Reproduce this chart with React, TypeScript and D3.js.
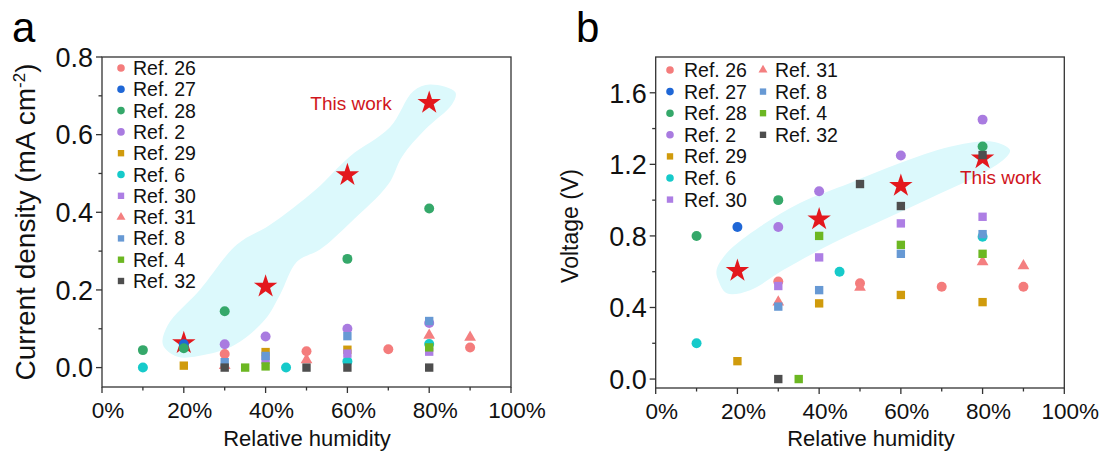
import React from 'react';
import * as d3 from 'd3';

// ---------- data ----------
const seriesNames = ['Ref. 26', 'Ref. 27', 'Ref. 28', 'Ref. 2', 'Ref. 29', 'Ref. 6', 'Ref. 30', 'Ref. 31', 'Ref. 8', 'Ref. 4', 'Ref. 32'];
const xTickLabels = ['0%', '20%', '40%', '60%', '80%', '100%'];
const xMajor = [0, 20, 40, 60, 80, 100];
const xMinor = [10, 30, 50, 70, 90];

const yMajorA = [0, 0.2, 0.4, 0.6, 0.8];
const yMinorA = [0.1, 0.3, 0.5, 0.7];
const yMajorB = [0, 0.4, 0.8, 1.2, 1.6];
const yMinorB = [0.2, 0.6, 1.0, 1.4];

// Panel a: current density (mA cm^-2) vs relative humidity (%)
const ref26A = [[30, 0.035], [50, 0.042], [70, 0.047], [90, 0.052]];
const ref27A = [[20, 0.06]];
const ref28A = [[10, 0.045], [20, 0.05], [30, 0.145], [60, 0.28], [80, 0.41]];
const ref2A = [[30, 0.06], [40, 0.08], [60, 0.1], [80, 0.115]];
const ref29A = [[20, 0.005], [40, 0.04], [60, 0.046]];
const ref6A = [[10, 0], [45, 0], [60, 0.016], [80, 0.061]];
const ref30A = [[40, 0.02], [60, 0.036], [80, 0.041]];
const ref31A = [[30, 0.005], [50, 0.02], [80, 0.083], [90, 0.078]];
const ref8A = [[30, 0.014], [40, 0.03], [60, 0.081], [80, 0.12]];
const ref4A = [[35, 0], [40, 0.003], [80, 0.052]];
const ref32A = [[30, 0], [50, 0], [60, 0], [80, 0]];
const thisWorkA = [[20, 0.063], [40, 0.209], [60, 0.496], [80, 0.682]];
const blobA = [[80.2, 0.729], [86.4, 0.709], [85.6, 0.678], [79, 0.613], [73.4, 0.544], [70, 0.472], [60.7, 0.373], [53.3, 0.304], [47.7, 0.273], [43.5, 0.187], [39.8, 0.123], [32.5, 0.059], [25.1, 0.033], [18.5, 0.028], [14.9, 0.059], [16.1, 0.11], [23.9, 0.2], [33, 0.317], [41.1, 0.368], [52.3, 0.459], [60.6, 0.544], [70.4, 0.619], [76.1, 0.712]];

// Panel b: voltage (V) vs relative humidity (%)
const ref26B = [[30, 0.545], [50, 0.535], [70, 0.516], [90, 0.516]];
const ref27B = [[20, 0.85]];
const ref28B = [[10, 0.8], [30, 1.0], [80, 1.3]];
const ref2B = [[30, 0.85], [40, 1.05], [60, 1.25], [80, 1.45]];
const ref29B = [[20, 0.1], [40, 0.423], [60, 0.47], [80, 0.43]];
const ref6B = [[10, 0.2], [45, 0.6], [80, 0.795]];
const ref30B = [[30, 0.52], [40, 0.68], [60, 0.87], [80, 0.907]];
const ref31B = [[30, 0.43], [50, 0.512], [80, 0.655], [90, 0.633]];
const ref8B = [[30, 0.405], [40, 0.497], [60, 0.7], [80, 0.81]];
const ref4B = [[35, 0], [40, 0.8], [60, 0.75], [80, 0.7]];
const ref32B = [[30, 0], [50, 1.09], [60, 0.967], [80, 1.252]];
const thisWorkB = [[20, 0.605], [40, 0.893], [60, 1.08], [80, 1.234]];
const blobB = [[15.3, 0.553], [17.4, 0.479], [23.1, 0.497], [31.2, 0.609], [43.4, 0.76], [55.6, 0.889], [67.9, 1.019], [80.1, 1.151], [85.9, 1.243], [86.7, 1.28], [82.5, 1.326], [72, 1.298], [59.8, 1.207], [47.6, 1.096], [35.3, 0.984], [25.5, 0.851], [17.4, 0.704], [14.9, 0.609]];

const dataA = [ref26A, ref27A, ref28A, ref2A, ref29A, ref6A, ref30A, ref31A, ref8A, ref4A, ref32A];
const dataB = [ref26B, ref27B, ref28B, ref2B, ref29B, ref6B, ref30B, ref31B, ref8B, ref4B, ref32B];

// ---------- styles ----------
const styles: Record<string, { shape: string; color: string }> = {
  'Ref. 26': { shape: 'circle', color: '#f47c7c' },
  'Ref. 27': { shape: 'circle', color: '#1f67d6' },
  'Ref. 28': { shape: 'circle', color: '#35a86a' },
  'Ref. 2': { shape: 'circle', color: '#a97be0' },
  'Ref. 29': { shape: 'square', color: '#d09b0c' },
  'Ref. 6': { shape: 'circle', color: '#16caca' },
  'Ref. 30': { shape: 'square', color: '#ad7ee4' },
  'Ref. 31': { shape: 'triangle', color: '#f47f80' },
  'Ref. 8': { shape: 'square', color: '#6799d4' },
  'Ref. 4': { shape: 'square', color: '#6cb722' },
  'Ref. 32': { shape: 'square', color: '#4e4e4e' },
};

const FONT = '"Liberation Sans", Arial, Helvetica, sans-serif';
const AXIS = '#333';
const STAR = '#e3181d';
const BLOB = '#dcf9fc';

function symbolPath(shape: string, legend = false) {
  const k = legend ? 0.58 : 1;
  if (shape === 'circle') return d3.symbol(d3.symbolCircle, 78 * k)()!;
  if (shape === 'square') return d3.symbol(d3.symbolSquare, 70 * k)()!;
  if (shape === 'triangle') return d3.symbol(d3.symbolTriangle, 60 * k)()!;
  return d3.symbol(d3.symbolStar, 170)()!;
}

type PanelProps = {
  left: number; right: number; top: number; bottom: number;
  yDomain: [number, number];
  yMajor: number[]; yMinor: number[];
  data: number[][][];
  stars: number[][];
  blob: number[][];
};

function Panel(p: PanelProps) {
  const x = d3.scaleLinear().domain([0, 100]).range([p.left, p.right]);
  const y = d3.scaleLinear().domain(p.yDomain).range([p.bottom, p.top]);
  const blobLine = d3.line<number[]>().x(d => x(d[0])).y(d => y(d[1])).curve(d3.curveCatmullRomClosed.alpha(0.5));
  const fmt = d3.format('.1f');
  return (
    <g>
      <path d={blobLine(p.blob)!} fill={BLOB} />
      {/* frame */}
      <rect x={p.left} y={p.top} width={p.right - p.left} height={p.bottom - p.top} fill="none" stroke={AXIS} strokeWidth={1.3} />
      {/* x ticks */}
      {xMajor.map((v, i) => (
        <g key={'xm' + v}>
          <line x1={x(v)} x2={x(v)} y1={p.bottom} y2={p.bottom + 6} stroke={AXIS} strokeWidth={1.3} />
          <text x={x(v) + 6} y={p.bottom + 31} textAnchor="middle" fontSize={22.5} fontFamily={FONT} fill="#111">{xTickLabels[i]}</text>
        </g>
      ))}
      {xMinor.map(v => (
        <line key={'xn' + v} x1={x(v)} x2={x(v)} y1={p.bottom} y2={p.bottom + 3.5} stroke={AXIS} strokeWidth={1.3} />
      ))}
      {p.yMajor.map(v => (
        <g key={'ym' + v}>
          <line x1={p.left - 6} x2={p.left} y1={y(v)} y2={y(v)} stroke={AXIS} strokeWidth={1.3} />
          <text x={p.left - 9} y={y(v)} dy="0.36em" textAnchor="end" fontSize={27} fontFamily={FONT} fill="#111">{fmt(v)}</text>
        </g>
      ))}
      {p.yMinor.map(v => (
        <line key={'yn' + v} x1={p.left - 3.5} x2={p.left} y1={y(v)} y2={y(v)} stroke={AXIS} strokeWidth={1.3} />
      ))}
      {/* stars */}
      {p.stars.map((d, i) => (
        <path key={'s' + i} d={symbolPath('star')} transform={`translate(${x(d[0])},${y(d[1])})`} fill={STAR} />
      ))}
      {/* series */}
      {p.data.map((series, si) => {
        const st = styles[seriesNames[si]];
        return series.map((d, j) => (
          <path key={si + '-' + j} d={symbolPath(st.shape)} transform={`translate(${x(d[0])},${y(d[1])})`} fill={st.color} />
        ));
      })}
    </g>
  );
}

function LegendItem({ name, mx, tx, yy }: { name: string; mx: number; tx: number; yy: number }) {
  const st = styles[name];
  return (
    <g>
      <path d={symbolPath(st.shape, true)} transform={`translate(${mx},${yy})`} fill={st.color} />
      <text x={tx} y={yy} dy="0.36em" fontSize={19.5} fontFamily={FONT} fill="#111">{name}</text>
    </g>
  );
}

export default function App() {
  const colB1 = seriesNames.slice(0, 7);
  const colB2 = seriesNames.slice(7);
  return (
    <svg width={1104} height={452} style={{ position: 'absolute', left: 0, top: 0, background: '#fff' }}>
      <rect width={1104} height={452} fill="#fff" />
      {/* panel a */}
      <text x={12} y={42} fontSize={42} fontFamily={FONT} fill="#000">a</text>
      <Panel left={102} right={511} top={57} bottom={387} yDomain={[-0.05, 0.8]} yMajor={yMajorA} yMinor={yMinorA} data={dataA} stars={thisWorkA} blob={blobA} />
      {seriesNames.map((n, i) => (
        <LegendItem key={n} name={n} mx={121} tx={133} yy={68 + i * 21.3} />
      ))}
      <text x={351} y={110} textAnchor="middle" fontSize={19} fontFamily={FONT} fill="#d0161d">This work</text>
      <text x={307} y={446} textAnchor="middle" fontSize={22} fontFamily={FONT} fill="#111">Relative humidity</text>
      <text transform="translate(35,222) rotate(-90)" textAnchor="middle" fontSize={28} fontFamily={FONT} fill="#111">
        Current density (mA cm<tspan dy={-10} fontSize={17}>-2</tspan><tspan dy={10}>)</tspan>
      </text>

      {/* panel b */}
      <text x={576} y={42} fontSize={42} fontFamily={FONT} fill="#000">b</text>
      <Panel left={655.7} right={1064.3} top={57} bottom={388} yDomain={[-0.05, 1.8]} yMajor={yMajorB} yMinor={yMinorB} data={dataB} stars={thisWorkB} blob={blobB} />
      {colB1.map((n, i) => (
        <LegendItem key={n} name={n} mx={670} tx={684} yy={70 + i * 21.6} />
      ))}
      {colB2.map((n, i) => (
        <LegendItem key={n} name={n} mx={763} tx={775} yy={70 + i * 21.6} />
      ))}
      <text x={960} y={184} fontSize={19} fontFamily={FONT} fill="#d0161d">This work</text>
      <text x={871} y={446} textAnchor="middle" fontSize={22} fontFamily={FONT} fill="#111">Relative humidity</text>
      <text transform="translate(578,226) rotate(-90)" textAnchor="middle" fontSize={23} fontFamily={FONT} fill="#111">Voltage (V)</text>
    </svg>
  );
}
